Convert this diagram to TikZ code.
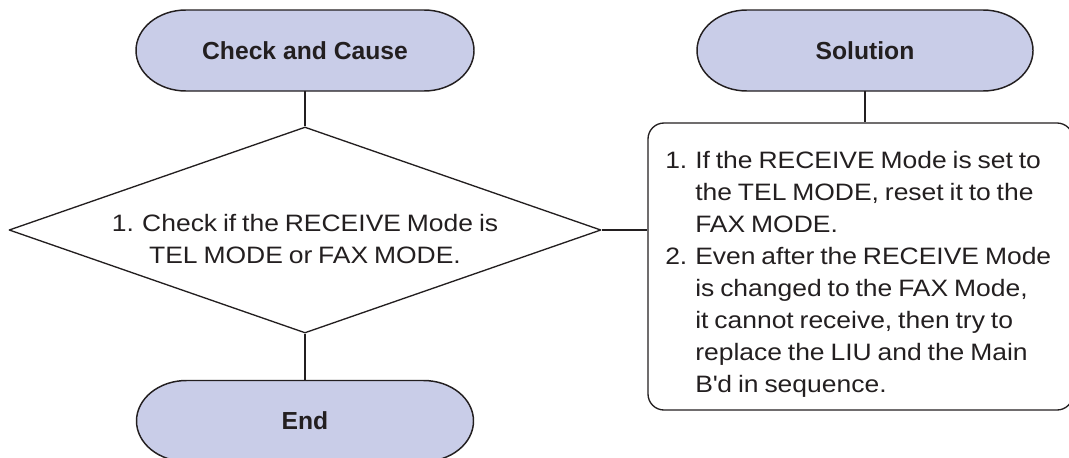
\documentclass[tikz,border=0pt]{standalone}
\usepackage{fontspec}
\setmainfont{Liberation Sans}
\newfontfamily\bodyfont{Liberation Sans}[FakeStretch=1.115,WordSpace=0.8]
\usetikzlibrary{shapes.geometric,calc}
\definecolor{ink}{RGB}{35,31,32}
\definecolor{lav}{RGB}{201,205,232}
\newcommand\stadshape[3]{%
  \filldraw[stadline] ($(#1)+(-#2+50,#3)$) -- ($(#1)+(#2-50,#3)$)
    arc[start angle=90,end angle=-90,x radius=37.5pt,y radius=#3*0.75pt]
    -- ($(#1)+(-#2+50,-#3)$)
    arc[start angle=270,end angle=90,x radius=37.5pt,y radius=#3*0.75pt] -- cycle;}
\begin{document}
\begin{tikzpicture}[x=0.75pt,y=0.75pt,line join=round,
  stadline/.style={draw=ink,fill=lav,line width=1.1pt},
  stadtext/.style={inner sep=0pt,text=ink,font=\fontsize{18.5pt}{22pt}\selectfont\bfseries},
  conn/.style={draw=ink,line width=1pt},
  body/.style={inner sep=0pt,text=ink,font=\bodyfont\fontsize{17.8pt}{24pt}\selectfont}]
\useasboundingbox (0,0) rectangle (1069,-457);
\clip (0,0) rectangle (1069,-457);
\coordinate (ccc) at (305,-50.5);
\coordinate (solc) at (865,-50.5);
\coordinate (endc) at (305,-421);
\stadshape{ccc}{169}{40.5}
\stadshape{solc}{168}{40.5}
\stadshape{endc}{168.5}{40.5}
\node[stadtext,minimum width=253.5pt,minimum height=60.75pt] (cc) at (ccc) {Check and Cause};
\node[stadtext,minimum width=252pt,minimum height=60.75pt] (sol) at (solc) {Solution};
\node[stadtext,minimum width=252.75pt,minimum height=60.75pt] (endn) at (endc) {End};
\node[draw=ink,line width=1pt,diamond,minimum width=444pt,minimum height=154.5pt,inner sep=0pt] (q) at (305,-230) {};
\node[body,anchor=base] (qt) at (305,-231.2) {\begin{tabular}[t]{@{}c@{}}1. Check if the RECEIVE Mode is\\TEL MODE or FAX MODE.\end{tabular}};
\node[draw=ink,line width=1pt,rounded corners=12pt,minimum width=318.75pt,minimum height=215.25pt,inner sep=0pt] (rb) at (860.5,-266.5) {};
\node[body,anchor=base west] (rt) at (665,-168.3) {\begin{tabular}[t]{@{}p{22.5pt}@{}l@{}}1.&If the RECEIVE Mode is set to\\ &the TEL MODE, reset it to the\\ &FAX MODE.\\ 2.&Even after the RECEIVE Mode\\ &is changed to the FAX Mode,\\ &it cannot receive, then try to\\ &replace the LIU and the Main\\ &B\textquotesingle d in sequence.\end{tabular}};
\draw[conn] (cc.south) -- (q.north);
\draw[conn] (q.south) -- (endn.north);
\draw[conn] (q.east) -- (q.east -| rb.west);
\draw[conn] (sol.south) -- (sol.south |- rb.north);
\end{tikzpicture}
\end{document}
